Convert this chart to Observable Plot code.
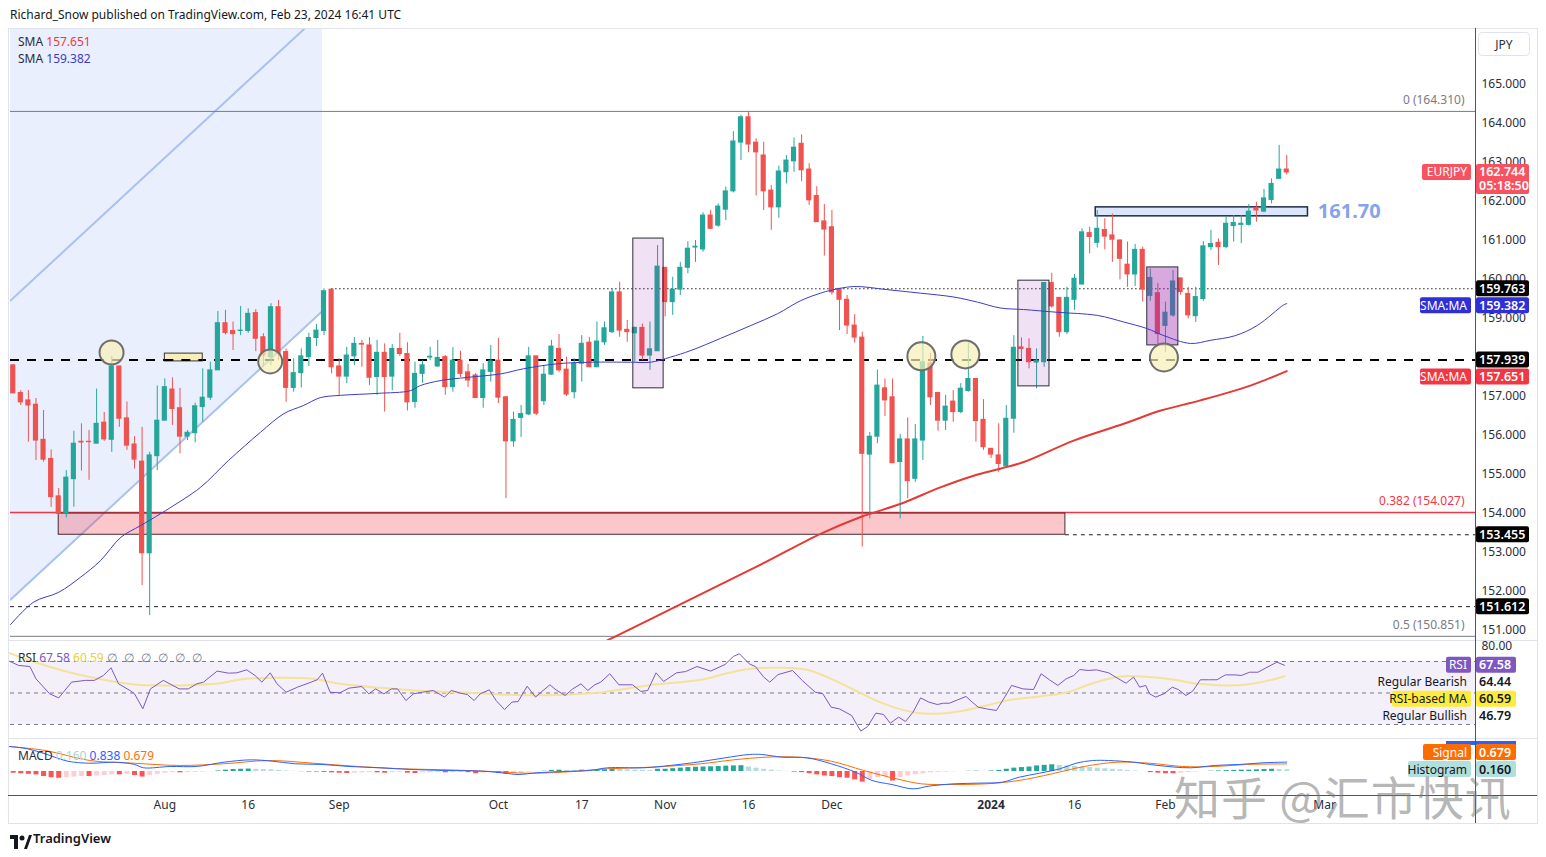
<!DOCTYPE html>
<html>
<head>
<meta charset="utf-8">
<script src="https://cdn.jsdelivr.net/npm/d3@7"></script>
<script src="https://cdn.jsdelivr.net/npm/@observablehq/plot@0.6"></script>
<style>
html,body{margin:0;padding:0;background:#fff;}
#wrap{position:relative;width:1546px;height:857px;overflow:hidden;font-family:"Noto Sans",sans-serif;color:#131722;background:#fff;}
.abs{position:absolute;white-space:nowrap;}
</style>
</head>
<body>
<div id="wrap"></div>
<script>
// ================= DATA =================
const openP = [
157.80,157.09,156.90,156.79,155.89,155.40,154.44,154.01,154.88,155.84,
155.84,155.79,156.33,155.89,157.77,156.44,155.77,155.33,152.98,155.47,
156.38,157.18,156.70,155.97,156.06,156.73,156.97,157.67,158.88,158.68,
158.68,158.68,159.14,158.52,158.01,159.29,158.14,157.22,157.60,158.01,
158.50,158.68,159.74,157.77,157.51,158.03,158.35,158.31,157.50,158.12,
157.51,158.22,158.09,156.86,157.58,158.00,157.77,158.01,157.24,157.92,
157.62,157.54,156.96,157.63,157.92,156.98,155.85,156.45,156.54,158.03,
156.88,157.56,158.22,157.69,157.11,157.84,158.38,157.75,158.39,158.65,
159.67,158.71,158.62,158.76,158.05,158.16,160.30,159.42,159.74,160.30,
160.82,160.77,161.64,161.38,161.79,162.26,163.51,164.16,163.51,163.18,
162.28,161.85,162.75,163.03,163.48,162.82,162.14,161.49,161.34,159.76,
159.48,158.82,158.51,155.51,155.97,157.21,156.98,155.32,155.90,154.89,
155.87,157.85,157.09,156.38,156.87,156.60,157.14,157.45,156.40,155.66,
155.49,155.21,156.43,158.26,158.22,157.87,157.88,159.91,159.53,158.65,
159.48,159.87,161.19,160.94,161.27,161.13,161.00,160.38,160.13,160.76,
159.58,159.65,158.81,159.08,160.03,159.63,159.06,159.50,160.83,160.94,
160.83,161.37,161.40,161.40,161.82,161.74,162.04,162.58,162.82];
const highP = [
157.82,157.15,157.15,156.95,156.64,155.63,154.64,155.10,156.11,156.30,
156.13,157.19,156.59,158.03,157.77,156.86,155.97,156.21,155.57,157.27,
157.45,157.48,157.21,156.13,156.83,157.71,157.88,159.18,159.21,158.91,
159.31,159.25,159.23,158.61,159.38,159.46,158.22,157.97,158.22,158.62,
158.85,159.76,159.76,157.97,158.26,158.51,158.44,158.51,158.44,158.35,
158.33,158.62,158.38,157.88,157.92,158.26,158.44,158.05,158.25,158.16,
157.82,157.59,157.84,158.31,158.49,157.00,156.60,156.77,158.26,158.03,
157.79,158.44,158.59,158.01,157.97,158.56,158.51,158.91,158.91,159.76,
159.93,158.95,158.78,158.86,158.91,160.87,160.30,160.06,160.44,160.97,
161.00,161.71,161.77,161.94,162.37,163.79,164.21,164.31,163.61,163.52,
162.41,162.91,163.18,163.63,163.71,162.97,162.38,161.92,161.77,159.76,
159.59,159.10,158.65,156.08,157.68,157.45,157.45,156.03,156.45,156.28,
158.54,158.11,157.11,157.03,157.15,157.33,158.37,157.45,156.92,155.66,
156.30,156.77,158.56,158.50,158.48,158.22,159.91,160.16,159.53,159.80,
160.13,161.30,161.34,161.77,161.56,161.68,161.02,160.96,160.90,160.83,
160.27,159.90,159.42,160.23,160.03,159.80,159.80,160.97,161.26,161.04,
161.62,161.64,161.64,161.92,161.98,162.31,162.58,163.44,163.18];
const lowP = [
157.08,156.77,155.83,155.36,155.32,154.16,153.97,153.89,154.16,155.09,
154.85,155.79,155.85,155.57,156.21,155.62,155.14,152.15,151.38,155.10,
156.38,156.26,155.53,155.87,155.81,156.34,156.90,157.67,158.58,158.18,
158.56,158.62,158.15,157.75,157.79,157.92,156.85,157.11,157.22,157.77,
158.28,158.56,157.58,157.03,157.33,157.79,157.75,157.28,157.03,156.60,
157.15,158.03,156.63,156.70,157.34,157.92,157.75,157.03,157.11,157.49,
157.23,156.96,156.70,157.37,156.82,154.38,155.70,155.95,156.51,156.51,
156.77,157.54,157.62,157.00,156.94,157.37,157.74,157.74,158.31,158.61,
158.52,158.39,157.88,157.92,157.67,158.16,159.04,159.08,159.59,160.15,
160.44,160.70,161.28,161.34,161.51,162.22,163.05,163.25,162.14,161.77,
161.26,161.57,162.45,162.75,162.51,161.90,161.47,160.60,159.60,158.69,
158.59,158.37,153.14,153.86,155.79,156.49,155.29,153.86,154.38,154.80,
155.36,156.77,156.11,156.13,156.34,156.56,157.11,155.83,155.62,155.41,
155.06,155.15,156.06,157.95,157.71,157.20,157.75,159.27,158.52,158.59,
159.21,159.87,160.66,160.81,160.76,160.44,159.99,159.80,159.82,159.42,
159.44,158.30,158.13,159.03,159.60,158.99,158.90,159.44,160.74,160.36,
160.79,160.96,160.92,161.37,161.47,161.71,161.94,162.58,162.68];
const closeP = [
157.08,156.85,156.77,155.87,155.38,154.42,153.99,154.92,155.79,155.82,
155.83,156.30,155.90,157.77,156.43,155.74,155.38,152.98,155.49,156.38,
157.24,156.68,155.97,156.07,156.75,156.97,157.67,158.88,158.63,158.60,
158.69,159.12,158.48,158.05,159.29,158.09,157.22,157.60,158.03,158.50,
158.69,159.70,157.75,157.51,158.05,158.35,158.33,157.48,158.12,157.50,
158.22,158.09,156.85,157.58,157.80,158.02,157.99,157.24,157.92,157.58,
157.41,156.96,157.67,157.90,156.97,155.85,156.40,156.55,158.03,156.56,
157.56,158.28,157.67,157.05,157.84,158.35,157.75,158.41,158.75,159.67,
158.69,158.65,158.76,158.05,158.21,160.33,159.42,159.74,160.30,160.79,
160.84,161.64,161.30,161.87,162.26,163.54,164.16,163.46,163.26,162.26,
161.85,162.77,163.05,163.38,162.80,162.03,161.47,161.28,159.67,159.48,
158.82,158.51,155.53,155.97,157.28,156.90,155.29,155.90,154.83,155.90,
157.88,156.98,156.38,156.74,156.60,157.20,157.45,156.37,155.70,155.51,
155.27,156.43,158.25,158.22,157.88,157.92,159.91,159.31,158.65,159.53,
160.02,161.21,161.09,161.30,161.10,161.02,160.53,160.13,160.76,159.74,
160.04,158.60,159.15,159.95,159.68,159.08,159.55,160.85,160.91,160.83,
161.43,161.45,161.43,161.74,161.77,162.08,162.45,162.82,162.744];

// 50-period SMA (blue), read at bar positions
const smaFastX = [-0.36,2.7,6.0,8.9,11.5,14.2,16.8,19.4,20.8,24.7,28.4,32.6,35.7,38.3,40.5,43.2,48.0,52.4,53.7,56.4,59.9,64.3,67.3,71.8,76.2,81.4,84.1,86.7,89.4,93.3,97.3,100.8,103.9,106.5,107.8,110.9,115.3,119.7,124.1,127.2,130.2,133.3,137.7,143.0,146.5,149.6,151.8,155.3,157.9,161.2,164.1,167.6,168];
const smaFastV = [151.15,151.73,151.98,152.37,152.79,153.39,153.69,153.99,154.16,154.67,155.36,156.08,156.56,156.77,156.97,157.03,157.08,157.15,157.28,157.41,157.49,157.58,157.71,157.84,157.88,157.88,157.88,158.01,158.18,158.49,158.82,159.12,159.46,159.65,159.72,159.82,159.74,159.65,159.55,159.42,159.27,159.23,159.16,159.08,158.91,158.74,158.56,158.36,158.44,158.56,158.82,159.35,159.382];
// 200-period SMA (red)
const smaSlowX = [78.1,88.0,98.6,106.5,111.8,117.1,122.3,126.7,130.2,133.3,139.9,146.5,151.4,156.6,163.2,168];
const smaSlowV = [150.72,151.67,152.69,153.48,153.91,154.25,154.67,154.97,155.15,155.32,155.87,156.30,156.64,156.90,157.28,157.651];

// RSI (14) and its MA
const rsiX = [-0.5,0.7,2.2,3.0,4.8,6.0,7.7,9.5,10.7,11.9,12.9,13.9,15.4,16.0,17.1,18.1,19.8,21.9,23.1,24.2,25.1,26.9,28.4,29.5,30.8,31.9,32.8,33.9,34.8,36.0,37.5,39.3,40.1,40.8,41.8,43.1,44.3,46.0,46.9,47.8,48.9,49.9,50.7,51.8,52.8,54.0,55.4,56.9,57.8,59.0,59.9,60.8,61.6,62.8,63.7,64.8,65.8,66.6,67.8,68.9,69.9,70.8,71.6,72.8,73.8,74.9,75.8,76.7,77.5,78.7,79.9,81.7,82.8,83.7,84.8,85.8,87.5,88.7,90.2,
92.0,93.9,95.0,95.8,97.1,97.9,99.0,99.8,100.9,102.8,104.1,105.8,106.8,107.9,109.0,110.6,111.8,112.7,113.8,114.8,115.7,116.8,117.7,118.7,119.7,120.8,121.9,122.7,123.5,124.6,125.7,126.5,127.3,128.4,129.7,130.8,131.7,133.2,134.6,135.6,136.7,137.8,138.9,139.9,140.7,141.8,142.9,144.5,145.6,146.8,147.8,148.6,149.4,149.9,150.7,151.8,152.9,153.7,154.7,155.6,156.6,157.7,158.8,159.9,161.2,162.0,163.1,164.2,165.2,166.7,167.7];
const rsiV = [70.2,67.5,66.8,59.0,49.5,46.9,56.9,58.0,58.0,61.1,66.0,55.8,51.6,49.5,40.0,52.6,58.0,52.6,52.6,55.8,56.9,63.9,62.6,62.8,64.7,61.1,56.9,62.8,55.8,50.5,53.7,56.9,58.4,62.6,50.5,50.1,53.1,54.1,49.5,52.6,49.5,52.6,52.6,45.2,49.5,50.5,51.6,47.4,51.6,49.9,49.0,45.2,49.5,52.0,45.2,39.5,44.2,44.6,54.3,47.4,51.6,55.2,52.0,48.4,52.6,55.8,51.6,55.2,56.9,62.2,55.2,55.2,51.0,51.6,62.8,57.3,62.8,63.6,66.8,
63.9,68.1,73.2,74.9,68.5,66.8,60.1,56.9,61.7,64.3,57.9,50.5,49.5,41.0,39.9,35.7,25.8,28.7,37.2,36.4,30.8,34.7,31.9,37.8,46.9,44.2,42.7,43.5,43.5,45.7,47.8,44.2,41.0,39.9,38.9,47.4,54.8,52.6,52.2,62.2,58.4,54.8,59.0,61.1,64.9,64.3,64.7,62.8,59.6,56.2,60.1,53.7,54.8,49.5,47.4,49.5,53.7,52.2,48.4,51.2,58.4,58.4,58.4,61.5,61.5,61.1,63.2,63.2,65.8,69.6,67.58];
const rsiMaX = [-0.5,4.2,10.1,16.0,21.9,26.6,30.7,33.7,39.6,43.1,48.4,54.3,60.2,66.1,71.9,77.8,83.7,90.7,93.9,97.1,101.4,104.7,107.9,111.1,114.9,118.7,121.9,125.1,128.4,131.6,135.4,139.1,142.4,146.1,149.9,153.1,156.4,159.6,162.8,166.1,167.7];
const rsiMaV = [75.3,67.5,60.1,55.4,54.8,55.8,59.0,59.6,59.0,55.8,53.3,51.2,50.1,48.8,48.8,50.5,54.8,58.4,62.2,65.3,66.0,64.7,59.0,51.6,43.1,37.8,36.8,38.5,42.1,45.7,47.8,50.5,56.2,60.5,60.1,58.4,55.8,54.8,55.4,58.4,60.59];
const rsiLevels = [70, 50, 30];

// MACD (12,26,9)
const macdX = [-0.5,1.9,4.2,7.2,10.1,13.6,16.0,17.2,20.7,24.2,27.8,31.3,34.2,37.2,40.7,44.3,48.4,52.5,57.2,61.9,64.9,66.6,69.0,72.5,76.1,78.4,83.1,86.7,90.7,93.9,97.1,98.7,101.4,104.7,107.9,111.1,113.3,115.9,118.7,120.8,124.1,127.3,130.5,132.7,135.4,138.1,140.2,142.4,144.5,147.8,151.0,155.3,158.5,161.8,165.0,168];
const macdV = [2.23,2.02,1.58,0.92,0.74,0.83,0.63,0.33,0.45,0.45,0.83,1.04,0.92,0.69,0.63,0.45,0.33,0.18,0.09,0.03,-0.15,-0.27,-0.12,0.0,0.09,0.33,0.33,0.54,0.88,1.22,1.52,1.52,1.28,1.22,0.69,-0.06,-0.80,-1.16,-1.55,-1.31,-1.10,-1.04,-0.95,-0.51,-0.15,0.24,0.74,0.98,0.98,0.83,0.54,0.33,0.54,0.63,0.78,0.838];
const signalX = [-0.5,4.2,10.1,16.0,21.9,27.8,33.7,39.6,45.4,51.3,57.2,63.1,67.8,72.5,78.4,84.3,90.7,95.0,99.3,103.6,107.9,112.2,116.5,119.8,124.1,128.4,132.7,137.0,141.3,145.6,149.9,154.2,158.5,162.8,168];
const signalV = [2.23,1.88,0.98,0.74,0.54,0.69,0.98,0.74,0.45,0.24,0.15,0.0,-0.15,-0.06,0.24,0.39,0.69,1.04,1.28,1.28,0.92,0.09,-0.65,-1.10,-1.16,-1.10,-0.80,-0.21,0.45,0.83,0.74,0.45,0.45,0.63,0.679];
const histV = [
-0.15,-0.2,-0.25,-0.3,-0.45,-0.55,-0.6,
-0.55,-0.5,-0.45,-0.45,-0.4,-0.35,-0.3,-0.3,-0.25,
-0.35,-0.5,
-0.35,-0.25,-0.15,-0.1,
-0.12,-0.1,-0.08,-0.05,-0.02,
0.05,0.12,0.18,0.2,0.22,0.2,0.18,0.15,
0.1,0.05,0.02,-0.02,-0.05,-0.05,-0.08,-0.12,
-0.15,-0.18,-0.15,-0.12,-0.1,-0.12,-0.15,-0.1,-0.08,-0.15,-0.18,-0.12,-0.1,-0.08,-0.12,-0.1,-0.08,-0.1,-0.2,-0.15,-0.1,
-0.15,-0.25,-0.2,-0.15,
-0.05,-0.02,0.02,0.1,0.12,0.1,0.08,0.12,
0.1,0.12,0.15,0.2,0.18,0.15,0.12,0.1,0.08,0.2,
0.2,0.25,0.3,0.35,0.38,0.4,0.42,0.45,0.48,0.5,0.52,0.4,0.3,0.2,0.12,
0.05,0.02,-0.05,-0.1,-0.2,-0.3,-0.4,
-0.45,-0.55,-0.6,-0.75,-0.95,-0.7,-0.55,
-0.45,-0.85,-0.55,-0.4,-0.3,-0.2,-0.12,-0.08,-0.05,-0.03,
0.0,0.02,0.03,0.02,0.05,
0.1,0.2,0.3,0.35,0.4,0.5,0.55,0.6,0.55,0.5,0.45,0.4,0.35,0.3,
0.25,0.2,0.15,0.1,0.05,0.0,
-0.1,-0.15,-0.2,-0.2,-0.15,-0.1,-0.05,
0.0,0.03,0.05,0.08,0.1,0.12,0.12,0.15,0.18,0.2,0.18,0.16];

// time axis
const tickIdx = [20,31,43,64,75,86,97,108,129,140,152,173];
const tickLbl = ["Aug","16","Sep","Oct","17","Nov","16","Dec","2024","16","Feb","Mar"];

// drawings
const fibV = [164.310, 154.027, 150.851];
const fibLbl = ["0 (164.310)", "0.382 (154.027)", "0.5 (150.851)"];
const fibCol = ["#787b86", "#f23645", "#787b86"];
const channelX = [-0.36, 40.8];
const channelLower = [151.79, 159.19];
const channelUpper = [159.46, 166.86];
const zoneX = [6, 138.8], zoneY = [153.455, 154.0];
const boxX1 = [81.8, 132.6, 149.6], boxX2 = [85.8, 136.7, 153.7];
const boxY1 = [157.21, 157.26, 158.31], boxY2 = [161.05, 159.97, 160.31];
const circX = [12.97, 33.9, 119.8, 125.6, 151.8];
const circV = [158.13, 157.90, 158.03, 158.08, 158.00];
const resBoxX = [142.8, 170.8], resBoxY = [161.62, 161.85];
const resLabel = "161.70";
const markBoxX = [20, 25], markBoxY = [157.9, 158.1];

const lastClose = 162.744, lastSmaFast = 159.382, lastSmaSlow = 157.651;
const lastRsi = 67.58, lastRsiMa = 60.59, regBear = 64.44, regBull = 46.79;
const lastMacd = 0.838, lastSignal = 0.679, lastHist = 0.160;

// ================= LAYOUT =================
const FONT = '"Noto Sans", sans-serif';
const UP = "#26a69a", DOWN = "#ef5350";
const W = 1546, ML = 10, MR = 71;
const X0 = -0.36, X1 = 192.9;
const wrap = document.getElementById("wrap");
function put(el, l, t){ el.style.left = l + "px"; el.style.top = t + "px"; el.classList.add("abs"); wrap.appendChild(el); return el; }
function div(html, l, t, css){ const d = document.createElement("div"); d.innerHTML = html; if (css) d.style.cssText = css; return put(d, l, t); }
function line(l, t, w, h, c){ div("", l, t, `width:${w}px;height:${h}px;background:${c};`); }

const bars = d3.range(openP.length);
const cc = i => closeP[i] >= openP[i] ? UP : DOWN;
const pts = arr => arr.map((_, i) => i);

// ---------- main pane ----------
const mainTop = 28, mainH = 612;
const yMain = [150.744, 166.436];
const main = Plot.plot({
  width: W, height: mainH, marginTop: 0, marginBottom: 0, marginLeft: ML, marginRight: MR,
  x: {domain: [X0, X1], axis: null},
  y: {domain: yMain, axis: null},
  style: {fontFamily: FONT, background: "transparent", overflow: "visible"},
  marks: [
    Plot.areaY(pts(channelX), {x: i => channelX[i], y1: i => channelLower[i], y2: yMain[1], fill: "#e9effd"}),
    Plot.line(pts(channelX), {x: i => channelX[i], y: i => channelLower[i], stroke: "#a9c0f2", strokeWidth: 2, clip: true}),
    Plot.line(pts(channelX), {x: i => channelX[i], y: i => channelUpper[i], stroke: "#a9c0f2", strokeWidth: 2, clip: true}),
    Plot.ruleY(pts(fibV), {y: i => fibV[i], stroke: i => fibCol[i], strokeWidth: i => i === 1 ? 1.5 : 1}),
    Plot.text(pts(fibV), {y: i => fibV[i], text: i => fibLbl[i], fill: i => fibCol[i], frameAnchor: "right", dx: -11, dy: -11, textAnchor: "end", fontSize: 12}),
    Plot.ruleY([157.939], {stroke: "#000", strokeWidth: 2, strokeDasharray: "9,8"}),
    Plot.ruleY([159.763], {x1: 42, x2: X1, stroke: "#222", strokeWidth: 1, strokeDasharray: "1.5,2.5"}),
    Plot.ruleY([153.455], {x1: zoneX[1], x2: X1, stroke: "#222", strokeWidth: 1, strokeDasharray: "4,4"}),
    Plot.ruleY([151.612], {stroke: "#222", strokeWidth: 1, strokeDasharray: "4,4"}),
    Plot.rect([0], {x1: zoneX[0], x2: zoneX[1], y1: zoneY[0], y2: zoneY[1], fill: "#f23645", fillOpacity: 0.28, stroke: "#4a2a2e", strokeWidth: 1}),
    Plot.rect([0], {x1: resBoxX[0], x2: resBoxX[1], y1: resBoxY[0], y2: resBoxY[1], fill: "#dbe5fb", stroke: "#1f2a44", strokeWidth: 1.5}),
    Plot.text([resLabel], {x: resBoxX[1] + 1.3, y: (resBoxY[0] + resBoxY[1]) / 2, text: d => d, textAnchor: "start", fill: "#86a4ec", fontSize: 20, fontWeight: "bold"}),
    Plot.ruleX(bars, {x: i => i, y1: i => lowP[i], y2: i => highP[i], stroke: cc, strokeWidth: 1}),
    Plot.rect(bars, {x1: i => i - 0.34, x2: i => i + 0.34, y1: i => Math.min(openP[i], closeP[i]), y2: i => Math.max(openP[i], closeP[i]), fill: cc, insetTop: -0.5, insetBottom: -0.5}),
    Plot.rect([0, 1], {x1: i => boxX1[i], x2: i => boxX2[i], y1: i => boxY1[i], y2: i => boxY2[i], fill: "#9c27b0", fillOpacity: 0.14, stroke: "#2a2e39", strokeWidth: 1}),
    Plot.rect([2], {x1: i => boxX1[i], x2: i => boxX2[i], y1: i => boxY1[i], y2: i => boxY2[i], fill: "#9c27b0", fillOpacity: 0.4, stroke: "#2a2e39", strokeWidth: 1}),
    Plot.rect([0], {x1: markBoxX[0], x2: markBoxX[1], y1: markBoxY[0], y2: markBoxY[1], fill: "#f7efb8", stroke: "#333", strokeWidth: 1}),
    Plot.ruleY([157.939], {x1: markBoxX[0], x2: markBoxX[1], stroke: "#000", strokeWidth: 2, strokeDasharray: "9,8"}),
    Plot.line(pts(smaSlowX), {x: i => smaSlowX[i], y: i => smaSlowV[i], stroke: "#e53935", strokeWidth: 2, curve: "catmull-rom", clip: true}),
    Plot.line(pts(smaFastX), {x: i => smaFastX[i], y: i => smaFastV[i], stroke: "#3c3cc8", strokeWidth: 1, curve: "catmull-rom", clip: true}),
    Plot.dot([0, 1], {x: i => circX[i], y: i => circV[i], r: 12, fill: "#f8f0b8", fillOpacity: 0.7, stroke: "#6e6e6e", strokeWidth: 2}),
    Plot.dot([2, 3, 4], {x: i => circX[i], y: i => circV[i], r: 14, fill: "#f8f0b8", fillOpacity: 0.7, stroke: "#6e6e6e", strokeWidth: 2}),
    Plot.axisY(d3.range(151, 166), {anchor: "right", tickSize: 0, tickPadding: 6, tickFormat: d => d.toFixed(3), fontSize: 12, color: "#2a2e39"})
  ]
});
main.style.position = "absolute"; main.style.left = "0px"; main.style.top = mainTop + "px";
wrap.appendChild(main);

function priceTag(svg, y, lines, bg, fg = "#fff", w = 53) {
  const g = d3.select(svg).append("g").attr("font-family", FONT).attr("text-anchor", "start");
  const h = lines.length * 14 + 2;
  g.append("rect").attr("x", 1476).attr("y", y - 8).attr("width", w).attr("height", h).attr("fill", bg).attr("rx", 2);
  lines.forEach((t, k) => g.append("text").attr("x", 1479).attr("y", y + 4.5 + k * 14).attr("text-anchor", "start").attr("fill", fg).attr("font-size", 12.5).attr("font-weight", 600).text(t));
}
function sideTag(svg, y, text, bg, w, fg = "#fff") {
  const g = d3.select(svg).append("g").attr("font-family", FONT);
  if (bg) g.append("rect").attr("x", 1471 - w).attr("y", y - 8).attr("width", w).attr("height", 16).attr("fill", bg).attr("rx", 2);
  g.append("text").attr("x", 1467).attr("y", y + 4.5).attr("text-anchor", "end").attr("fill", fg).attr("font-size", 12).text(text);
}
function stack(vals, ys, gap) { const out = []; let prev = -1e9; vals.forEach((v, k) => { const y = Math.max(ys(v), prev + gap[k]); out.push(y); prev = y; }); return out; }

const yM = v => main.scale("y").apply(v);
{
  const vals = [lastClose, 159.763, lastSmaFast, 157.939, lastSmaSlow, 153.455, 151.612];
  const yy = stack(vals, yM, [0, 17, 17, 17, 17, 17, 17]);
  priceTag(main, yy[0], [lastClose.toFixed(3), "05:18:50"], "#f7525f");
  sideTag(main, yy[0], "EURJPY", "#f7525f", 49);
  priceTag(main, yy[1], ["159.763"], "#000");
  priceTag(main, yy[2], [lastSmaFast.toFixed(3)], "#2f2fd8");
  sideTag(main, yy[2], "SMA:MA", "#2f2fd8", 51);
  priceTag(main, yy[3], ["157.939"], "#000");
  priceTag(main, yy[4], [lastSmaSlow.toFixed(3)], "#f23645");
  sideTag(main, yy[4], "SMA:MA", "#f23645", 51);
  priceTag(main, yy[5], ["153.455"], "#000");
  priceTag(main, yy[6], ["151.612"], "#000");
}

// ---------- RSI pane ----------
const rsiTop = 640, rsiH = 98, yRsi = [21.11, 83.33];
const rsiPlot = Plot.plot({
  width: W, height: rsiH, marginTop: 0, marginBottom: 0, marginLeft: ML, marginRight: MR,
  x: {domain: [X0, X1], axis: null},
  y: {domain: yRsi, axis: null},
  style: {fontFamily: FONT, background: "transparent", overflow: "visible"},
  marks: [
    Plot.rect([0], {x1: X0, x2: X1, y1: rsiLevels[2], y2: rsiLevels[0], fill: "#7e57c2", fillOpacity: 0.09}),
    Plot.ruleY(rsiLevels, {stroke: "#787b86", strokeWidth: 1, strokeDasharray: "4,4"}),
    Plot.line(pts(rsiMaX), {x: i => rsiMaX[i], y: i => rsiMaV[i], stroke: "#f3e39a", strokeWidth: 2, curve: "catmull-rom"}),
    Plot.line(pts(rsiX), {x: i => rsiX[i], y: i => rsiV[i], stroke: "#7e57c2", strokeWidth: 1}),
    Plot.axisY([80], {anchor: "right", tickSize: 0, tickPadding: 6, tickFormat: d => d.toFixed(2), fontSize: 12, color: "#2a2e39"})
  ]
});
rsiPlot.style.position = "absolute"; rsiPlot.style.left = "0px"; rsiPlot.style.top = rsiTop + "px";
wrap.appendChild(rsiPlot);
{
  const yR = v => rsiPlot.scale("y").apply(v);
  const yy = stack([lastRsi, regBear, lastRsiMa, regBull], yR, [0, 17, 17, 17]);
  priceTag(rsiPlot, yy[0], [lastRsi.toFixed(2)], "#7e57c2", "#fff", 40);
  sideTag(rsiPlot, yy[0], "RSI", "#7e57c2", 25);
  priceTag(rsiPlot, yy[1], [regBear.toFixed(2)], "transparent", "#131722", 40);
  sideTag(rsiPlot, yy[1], "Regular Bearish", null, 0, "#131722");
  priceTag(rsiPlot, yy[2], [lastRsiMa.toFixed(2)], "#ffeb3b", "#131722", 40);
  sideTag(rsiPlot, yy[2], "RSI-based MA", "#ffeb3b", 79, "#131722");
  priceTag(rsiPlot, yy[3], [regBull.toFixed(2)], "transparent", "#131722", 40);
  sideTag(rsiPlot, yy[3], "Regular Bullish", null, 0, "#131722");
}

// ---------- MACD pane ----------
const macdTop = 738, macdH = 84, yMacd = [-2.232, 2.946];
const histCol = i => {
  const h = histV[i], p = i > 0 ? histV[i - 1] : h;
  return h >= 0 ? (h >= p ? "#26a69a" : "#b2dfdb") : (h <= p ? "#ff5252" : "#ffcdd2");
};
const macdPlot = Plot.plot({
  width: W, height: macdH, marginTop: 0, marginBottom: 26, marginLeft: ML, marginRight: MR,
  x: {domain: [X0, X1], axis: null},
  y: {domain: yMacd, axis: null},
  style: {fontFamily: FONT, background: "transparent", overflow: "visible"},
  marks: [
    Plot.ruleX(pts(histV), {x: i => i, y1: 0, y2: i => histV[i], stroke: histCol, strokeWidth: 5}),
    Plot.line(pts(signalX), {x: i => signalX[i], y: i => signalV[i], stroke: "#ff6d00", strokeWidth: 1, curve: "catmull-rom"}),
    Plot.line(pts(macdX), {x: i => macdX[i], y: i => macdV[i], stroke: "#2962ff", strokeWidth: 1, curve: "catmull-rom"}),
    Plot.text(pts(tickIdx).filter(i => tickLbl[i] !== "2024"), {x: i => tickIdx[i], text: i => tickLbl[i], frameAnchor: "bottom", dy: 12, fontSize: 12, fill: "#2a2e39"}),
    Plot.text(pts(tickIdx).filter(i => tickLbl[i] === "2024"), {x: i => tickIdx[i], text: i => tickLbl[i], frameAnchor: "bottom", dy: 12, fontSize: 12, fontWeight: "bold", fill: "#2a2e39"})
  ]
});
macdPlot.style.position = "absolute"; macdPlot.style.left = "0px"; macdPlot.style.top = macdTop + "px";
wrap.appendChild(macdPlot);
{
  d3.select(macdPlot).append("rect").attr("x", 1446).attr("y", 3).attr("width", 70).attr("height", 4).attr("fill", "#2962ff");
  priceTag(macdPlot, 14, [lastSignal.toFixed(3)], "#ff6d00", "#fff", 40);
  sideTag(macdPlot, 14, "Signal", "#ff6d00", 48);
  priceTag(macdPlot, 31, [lastHist.toFixed(3)], "#b2dfdb", "#131722", 40);
  sideTag(macdPlot, 31, "Histogram", "#b2dfdb", 63, "#131722");
}

// ---------- frame / separators ----------
line(8, 28, 1529, 1, "#e0e3eb");
line(8, 28, 1, 795, "#e0e3eb");
line(1537, 28, 1, 795, "#e0e3eb");
line(8, 823, 1530, 1, "#e0e3eb");
line(8, 640, 1529, 1, "#e0e3eb");
line(8, 738, 1529, 1, "#e0e3eb");
line(8, 795, 1529, 1, "#50535e");
line(1475, 28, 1, 795, "#50535e");

// ---------- texts ----------
div("Richard_Snow published on TradingView.com, Feb 23, 2024 16:41 UTC", 10, 6, "font-size:12px;color:#131722;");
div(`SMA <span style="color:#f23645">${lastSmaSlow.toFixed(3)}</span>`, 18, 33, "font-size:12px;color:#2a2e39;");
div(`SMA <span style="color:#3c3cc8">${lastSmaFast.toFixed(3)}</span>`, 18, 50, "font-size:12px;color:#2a2e39;");
div(`RSI <span style="color:#7e57c2">${lastRsi.toFixed(2)}</span> <span style="color:#e8cf3a">${lastRsiMa.toFixed(2)}</span> <span style="color:#787b86;letter-spacing:2px">∅ ∅ ∅ ∅ ∅ ∅</span>`, 18, 649, "font-size:12px;color:#2a2e39;");
div(`MACD <span style="color:#a8d8d2">${lastHist.toFixed(3)}</span> <span style="color:#2962ff">${lastMacd.toFixed(3)}</span> <span style="color:#ff6d00">${lastSignal.toFixed(3)}</span>`, 18, 747, "font-size:12px;color:#2a2e39;");
div("JPY", 1478, 32, "width:52px;height:24px;line-height:24px;text-align:center;font-size:12px;color:#2a2e39;border:1px solid #e0e3eb;border-radius:4px;box-sizing:border-box;");
div(`<svg width="22" height="14" viewBox="0 0 22 14"><path d="M0 0h8v14H4V4H0z" fill="#131722"/><circle cx="12" cy="3" r="2.5" fill="#131722"/><path d="M14 14l5-14h3l-5 14z" fill="#131722"/></svg>`, 10, 832, "");
div("TradingView", 33, 829, "font-size:13px;font-weight:600;color:#131722;");
div("知乎 @汇市快讯", 1174, 762, "font-family:'Noto Sans CJK SC',sans-serif;font-size:46px;color:rgba(120,120,120,0.55);letter-spacing:1px;");
</script>
</body>
</html>
